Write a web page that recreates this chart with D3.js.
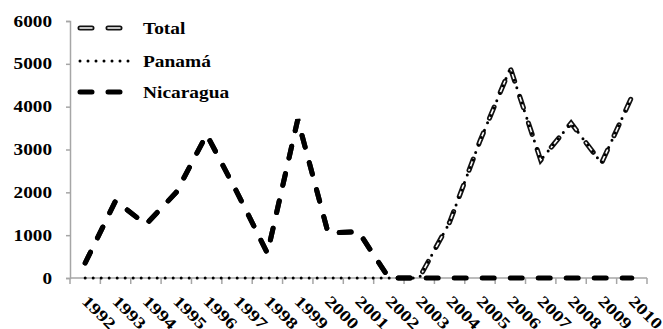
<!DOCTYPE html>
<html>
<head>
<meta charset="utf-8">
<script src="https://cdn.jsdelivr.net/npm/d3@7"></script>
<style>
  body { margin: 0; background: #fff; }
</style>
</head>
<body>
<svg id="chart" width="663" height="329"></svg>
<script>
// data
const years = ["1992","1993","1994","1995","1996","1997","1998","1999","2000","2001",
               "2002","2003","2004","2005","2006","2007","2008","2009","2010"];
const total     = [350, 1800, 1250, 2000, 3350, 2000, 580, 3700, 1050, 1080, 0, 0, 1300, 3200, 4900, 2750, 3620, 2680, 4230];
const panama    = [0, 0, 0, 0, 0, 0, 0, 0, 0, 0, 0, 0, 1300, 3200, 4900, 2750, 3620, 2680, 4230];
const nicaragua = [350, 1800, 1250, 2000, 3350, 2000, 580, 3700, 1050, 1080, 0, 0, 0, 0, 0, 0, 0, 0, 0];
const yTicks = [0, 1000, 2000, 3000, 4000, 5000, 6000];
const seriesNames = ["Total", "Panamá", "Nicaragua"];

const FONT = "Liberation Serif";

const svg = d3.select("#chart");
const x = d3.scaleBand().domain(years).range([70, 647]);
const y = d3.scaleLinear().domain([0, 6000]).range([278, 21]);

// set the font inline, then stretch text a bit wider like the original
function styleText(sel, size, k) {
  sel.style("font-family", FONT)
    .style("font-weight", "bold")
    .style("font-size", size + "px")
    .attr("fill", "#000");
  sel.each(function () {
    const len = this.getComputedTextLength();
    d3.select(this).attr("textLength", len * k).attr("lengthAdjust", "spacingAndGlyphs");
  });
}

// y axis
const yAxis = svg.append("g")
  .attr("transform", "translate(70,0)")
  .call(d3.axisLeft(y).tickValues(yTicks).tickSize(4).tickPadding(14).tickFormat(d3.format("d")));
yAxis.attr("font-family", null);
yAxis.select(".domain").attr("stroke", "#a6a6a6").attr("stroke-width", 1.5);
yAxis.selectAll(".tick line").attr("stroke", "#a6a6a6").attr("stroke-width", 1.5);
styleText(yAxis.selectAll(".tick text"), 16, 1.2);

// x axis line + ticks at band boundaries
const xg = svg.append("g");
xg.append("line")
  .attr("x1", x.range()[0]).attr("x2", x.range()[1])
  .attr("y1", y(0)).attr("y2", y(0))
  .attr("stroke", "#a6a6a6").attr("stroke-width", 1.5);
const bounds = years.map(d => x(d)).concat([x.range()[1]]);
xg.selectAll("line.tk").data(bounds).enter().append("line")
  .attr("class", "tk")
  .attr("x1", d => d).attr("x2", d => d)
  .attr("y1", y(0)).attr("y2", y(0) + 6)
  .attr("stroke", "#a6a6a6").attr("stroke-width", 1.5);
const xl = xg.selectAll("text").data(years).enter().append("text")
  .attr("transform", d => "translate(" + (x(d) + x.bandwidth() / 2 + 4) + "," + (y(0) + 16) + ") rotate(45)")
  .attr("dy", "0.72em")
  .text(d => d);
styleText(xl, 16, 1.25);

// lines
const line = vals => d3.line()
  .x((d, i) => x(years[i]) + x.bandwidth() / 2)
  .y(d => y(d))(vals);

function drawTotal(g, d) {
  g.append("path").attr("d", d).attr("fill", "none")
    .attr("stroke", "#111").attr("stroke-width", 5)
    .attr("stroke-linecap", "round").attr("stroke-dasharray", "12,16");
  g.append("path").attr("d", d).attr("fill", "none")
    .attr("stroke", "#fff").attr("stroke-width", 1.6)
    .attr("stroke-linecap", "round").attr("stroke-dasharray", "12,16");
}
function drawPanama(g, d) {
  g.append("path").attr("d", d).attr("fill", "none")
    .attr("stroke", "#000").attr("stroke-width", 3)
    .attr("stroke-linecap", "round").attr("stroke-dasharray", "0,8");
}
function drawNicaragua(g, d) {
  g.append("path").attr("d", d).attr("fill", "none")
    .attr("stroke", "#000").attr("stroke-width", 5)
    .attr("stroke-linecap", "round").attr("stroke-dasharray", "12,16");
}

const plot = svg.append("g");
drawTotal(plot.append("g"), line(total));
drawPanama(plot.append("g"), line(panama));
drawNicaragua(plot.append("g"), line(nicaragua));

// legend
const legY = [28, 61, 92];
const drawers = [drawTotal, drawPanama, drawNicaragua];
seriesNames.forEach((name, i) => {
  const g = svg.append("g");
  const x2 = i === 1 ? 132 : 124;
  drawers[i](g, d3.line()([[80, legY[i]], [x2, legY[i]]]));
  const t = g.append("text")
    .attr("x", 143).attr("y", legY[i] + 6)
    .text(name);
  styleText(t, 17, 1.14);
});
</script>
</body>
</html>
